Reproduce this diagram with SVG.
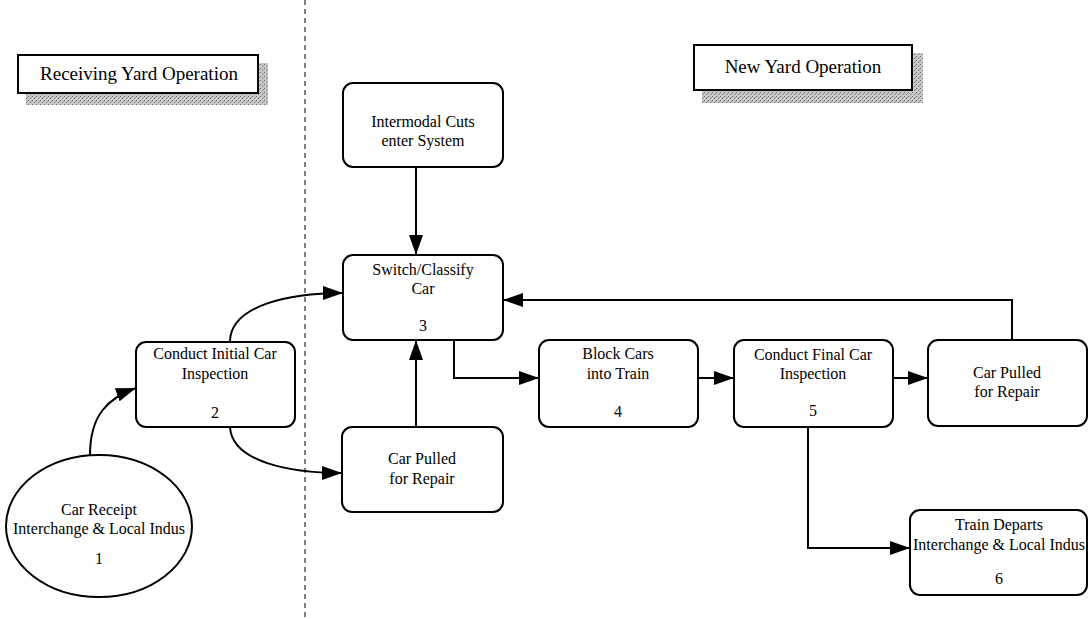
<svg xmlns="http://www.w3.org/2000/svg" width="1091" height="619" viewBox="0 0 1091 619">
<defs>
<marker id="arr" markerWidth="20" markerHeight="14" refX="20" refY="7" orient="auto" markerUnits="userSpaceOnUse">
<path d="M0,0 L20,7 L0,14 Z" fill="#000"/>
</marker>
<pattern id="stip" width="4" height="4" patternUnits="userSpaceOnUse">
<rect width="4" height="4" fill="#c8c8c8"/>
<rect x="0" y="0" width="1" height="1" fill="#666"/>
<rect x="2" y="2" width="1" height="1" fill="#777"/>
<rect x="3" y="1" width="1" height="1" fill="#999"/>
</pattern>
</defs>
<style>
.box{fill:#fff;stroke:#000;stroke-width:2}
.lbl{fill:#fff;stroke:#000;stroke-width:2}
.sh{fill:url(#stip)}
text{font-family:'Liberation Serif','Times New Roman',serif;fill:#000;text-anchor:middle}
.t{font-size:16px}
.h{font-size:19px}
.c{fill:none;stroke:#000;stroke-width:2}
</style>
<rect width="1091" height="619" fill="#fff"/>
<line x1="305" y1="0" x2="305" y2="619" stroke="#000" stroke-width="1" stroke-dasharray="5,4"/>

<g id="label-receiving" font-family="Liberation Serif, serif">
<rect class="sh" x="26" y="63" width="242" height="42"/>
<rect class="lbl" x="18" y="55" width="240" height="38"/>
<text class="h" x="139" y="80">Receiving Yard Operation</text>
</g>
<g id="label-new" font-family="Liberation Serif, serif">
<rect class="sh" x="702" y="53" width="221" height="50"/>
<rect class="lbl" x="694" y="45" width="218" height="45"/>
<text class="h" x="803" y="73">New Yard Operation</text>
</g>

<g id="connectors">
<line class="c" x1="416" y1="167" x2="416" y2="255" marker-end="url(#arr)"/>
<line class="c" x1="416" y1="427" x2="416" y2="340" marker-end="url(#arr)"/>
<polyline class="c" points="454,340 454,378 539,378" marker-end="url(#arr)"/>
<line class="c" x1="698" y1="378" x2="734" y2="378" marker-end="url(#arr)"/>
<line class="c" x1="893" y1="378" x2="928" y2="378" marker-end="url(#arr)"/>
<polyline class="c" points="1012,340 1012,300 503,300" marker-end="url(#arr)"/>
<polyline class="c" points="808,427 808,548 910,548" marker-end="url(#arr)"/>
<path class="c" d="M90,455 C90,415 108,398 136,388" marker-end="url(#arr)"/>
<path class="c" d="M230,342 C230,305 290,293 343,293" marker-end="url(#arr)"/>
<path class="c" d="M230,427 C232,462 290,473 342,473" marker-end="url(#arr)"/>
</g>

<g id="n-intermodal" font-family="Liberation Serif, serif">
<rect class="box" x="343" y="83" width="160" height="84" rx="10"/>
<text class="t" x="423" y="127">Intermodal Cuts</text>
<text class="t" x="423" y="146">enter System</text>
</g>
<g id="n3" font-family="Liberation Serif, serif">
<rect class="box" x="343" y="255" width="160" height="85" rx="10"/>
<text class="t" x="423" y="275">Switch/Classify</text>
<text class="t" x="423" y="294">Car</text>
<text class="t" x="423" y="331">3</text>
</g>
<g id="n-pulled1" font-family="Liberation Serif, serif">
<rect class="box" x="342" y="427" width="161" height="85" rx="10"/>
<text class="t" x="422" y="464">Car Pulled</text>
<text class="t" x="422" y="484">for Repair</text>
</g>
<g id="n2" font-family="Liberation Serif, serif">
<rect class="box" x="136" y="342" width="159" height="85" rx="10"/>
<text class="t" x="215" y="359">Conduct Initial Car</text>
<text class="t" x="215" y="379">Inspection</text>
<text class="t" x="215" y="418">2</text>
</g>
<g id="n1" font-family="Liberation Serif, serif">
<ellipse class="box" cx="99" cy="526" rx="93" ry="71"/>
<text class="t" x="99" y="515">Car Receipt</text>
<text class="t" x="99" y="534">Interchange &amp; Local Indus</text>
<text class="t" x="99" y="564">1</text>
</g>
<g id="n4" font-family="Liberation Serif, serif">
<rect class="box" x="539" y="340" width="159" height="87" rx="10"/>
<text class="t" x="618" y="359">Block Cars</text>
<text class="t" x="618" y="379">into Train</text>
<text class="t" x="618" y="417">4</text>
</g>
<g id="n5" font-family="Liberation Serif, serif">
<rect class="box" x="734" y="340" width="159" height="87" rx="10"/>
<text class="t" x="813" y="360">Conduct Final Car</text>
<text class="t" x="813" y="379">Inspection</text>
<text class="t" x="813" y="416">5</text>
</g>
<g id="n-pulled2" font-family="Liberation Serif, serif">
<rect class="box" x="928" y="340" width="159" height="86" rx="10"/>
<text class="t" x="1007" y="378">Car Pulled</text>
<text class="t" x="1007" y="397">for Repair</text>
</g>
<g id="n6" font-family="Liberation Serif, serif">
<rect class="box" x="910" y="510" width="177" height="85" rx="10"/>
<text class="t" x="999" y="530">Train Departs</text>
<text class="t" x="999" y="550">Interchange &amp; Local Indus</text>
<text class="t" x="999" y="584">6</text>
</g>
</svg>
